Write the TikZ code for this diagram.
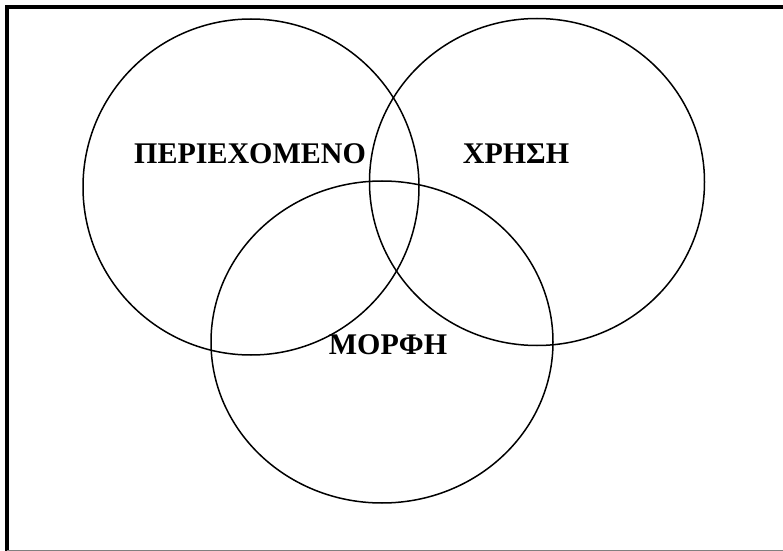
\documentclass[tikz,border=0pt]{standalone}
\usepackage{fontspec}
\setmainfont{Liberation Serif}
\usetikzlibrary{positioning}

\begin{document}
\begin{tikzpicture}[x=0.5pt, y=-0.5pt,
	every node/.style={font=\bfseries\fontsize{15}{18}\selectfont, anchor=base, inner sep=0pt},
	set/.style={line width=0.75pt},
	frame/.style={line width=2pt}
	]
	\useasboundingbox (0,0) rectangle (783,551);
	
	% frame
	\draw[frame] (7,551) -- (7,7) -- (783,7);
	\draw[gray, line width=0.5pt] (7,550.5) -- (783,550.5);
	
	% the three sets
	\coordinate (cL) at (251,187);
	\coordinate (cR) at (537,182);
	\coordinate (cB) at (382,342);
	\draw[set] (cL) ellipse [x radius=168, y radius=168];
	\draw[set] (cR) ellipse [x radius=167.5, y radius=163.5];
	\draw[set] (cB) ellipse [x radius=171, y radius=161];
	
	\node (content) at (250,164) {ΠΕΡΙΕΧΟΜΕΝΟ};
	\node (use) at (516,164) {ΧΡΗΣΗ};
	\node (form) at (388,354) {ΜΟΡΦΗ};
	
\end{tikzpicture}
\end{document}
